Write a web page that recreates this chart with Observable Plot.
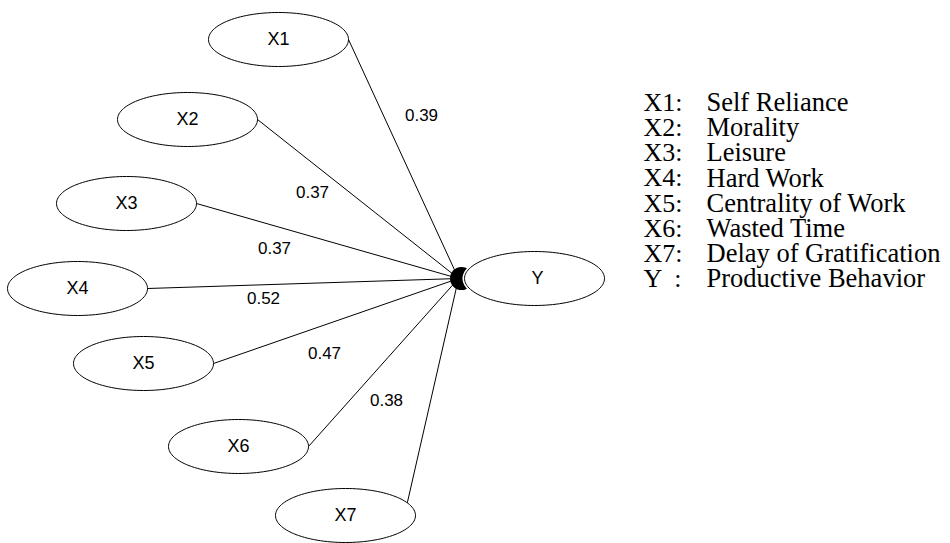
<!DOCTYPE html>
<html>
<head>
<meta charset="utf-8">
<script src="https://cdn.jsdelivr.net/npm/d3@7"></script>
<script src="https://cdn.jsdelivr.net/npm/@observablehq/plot@0.6"></script>
<style>
  html, body { margin: 0; padding: 0; background: #fff; }
  #chart svg { display: block; }
</style>
</head>
<body>
<div id="chart"></div>
<script>
// ---- data ----
const nodes = ["X1", "X2", "X3", "X4", "X5", "X6", "X7"];
const nodeX = [278, 187, 126, 77, 143, 238, 345];
const nodeY = [39, 119, 203, 288, 363, 446, 515];
const anchorDeg = [0, 0, 0, 0, 0, 0, 28];
const target = "Y";
const targetX = 534, targetY = 278;
const junctionX = 458, junctionY = 278;

const coefLabels = ["0.39", "0.37", "0.37", "0.52", "0.47", "0.38"];
const coefX = [421, 312, 274, 263, 324, 386];
const coefY = [115, 192, 248, 298, 353, 400];

const legendKeys = ["X1:", "X2:", "X3:", "X4:", "X5:", "X6:", "X7:", "Y  :"];
const legendNames = ["Self Reliance", "Morality", "Leisure", "Hard Work",
  "Centrality of Work", "Wasted Time", "Delay of Gratification", "Productive Behavior"];

// ---- geometry ----
const W = 950, H = 543;
const RX = 70, RY = 27;

function ellipsePts(id, cx, cy) {
  const pts = [];
  for (let i = 0; i < 120; i++) {
    const t = (i / 120) * 2 * Math.PI;
    pts.push({id, x: cx + RX * Math.cos(t), y: cy + RY * Math.sin(t)});
  }
  return pts;
}

const ellipses = nodes.flatMap((n, i) => ellipsePts(n, nodeX[i], nodeY[i]));
const targetEllipse = ellipsePts(target, targetX, targetY);

const paths = nodes.map((n, i) => {
  const a = anchorDeg[i] * Math.PI / 180;
  return {
    x1: nodeX[i] + RX * Math.cos(a), y1: nodeY[i] - RY * Math.sin(a),
    x2: junctionX, y2: junctionY
  };
});

const nodeTable = nodes.map((n, i) => ({n, x: nodeX[i], y: nodeY[i]}));
const coefTable = coefLabels.map((c, i) => ({c, x: coefX[i], y: coefY[i]}));
const legendTable = legendKeys.map((k, i) => ({k, name: legendNames[i], i}));

const legendX0 = 643, legendX1 = 706, legendY0 = 102, legendStep = 25.2;
const sans = "Liberation Sans, Arial, sans-serif";
const serif = "Liberation Serif, Times New Roman, serif";

const chart = Plot.plot({
  width: W, height: H,
  margin: 0,
  x: {domain: [0, W], range: [0, W], axis: null},
  y: {domain: [0, H], range: [0, H], axis: null},
  marks: [
    Plot.link(paths, {x1: "x1", y1: "y1", x2: "x2", y2: "y2", stroke: "black", strokeWidth: 1}),
    Plot.dot([{x: 461, y: junctionY}], {x: "x", y: "y", r: 11.5, fill: "black", stroke: "none"}),
    Plot.line(ellipses, {x: "x", y: "y", z: "id", curve: "linear-closed", fill: "white", stroke: "black", strokeWidth: 1}),
    Plot.line(targetEllipse, {x: "x", y: "y", z: "id", curve: "linear-closed", fill: "white", stroke: "white", strokeWidth: 4}),
    Plot.line(targetEllipse, {x: "x", y: "y", z: "id", curve: "linear-closed", fill: "none", stroke: "black", strokeWidth: 1}),
    Plot.text(nodeTable, {x: "x", y: "y", text: "n", fontSize: 18, fontFamily: sans, fill: "black"}),
    Plot.text([{t: target}], {x: () => targetX + 3, y: () => targetY, text: "t", fontSize: 18, fontFamily: sans, fill: "black"}),
    Plot.text(coefTable, {x: "x", y: "y", text: "c", fontSize: 17, fontFamily: sans, fill: "black", letterSpacing: "1px"}),
    Plot.text(legendTable, {x: () => legendX0, y: d => legendY0 + d.i * legendStep, text: "k", textAnchor: "start", fontSize: 26, fontFamily: serif, fill: "black"}),
    Plot.text(legendTable, {x: () => legendX1, y: d => legendY0 + d.i * legendStep, text: "name", textAnchor: "start", fontSize: 26.5, fontFamily: serif, fill: "black"})
  ]
});
document.getElementById("chart").appendChild(chart);
</script>
</body>
</html>
